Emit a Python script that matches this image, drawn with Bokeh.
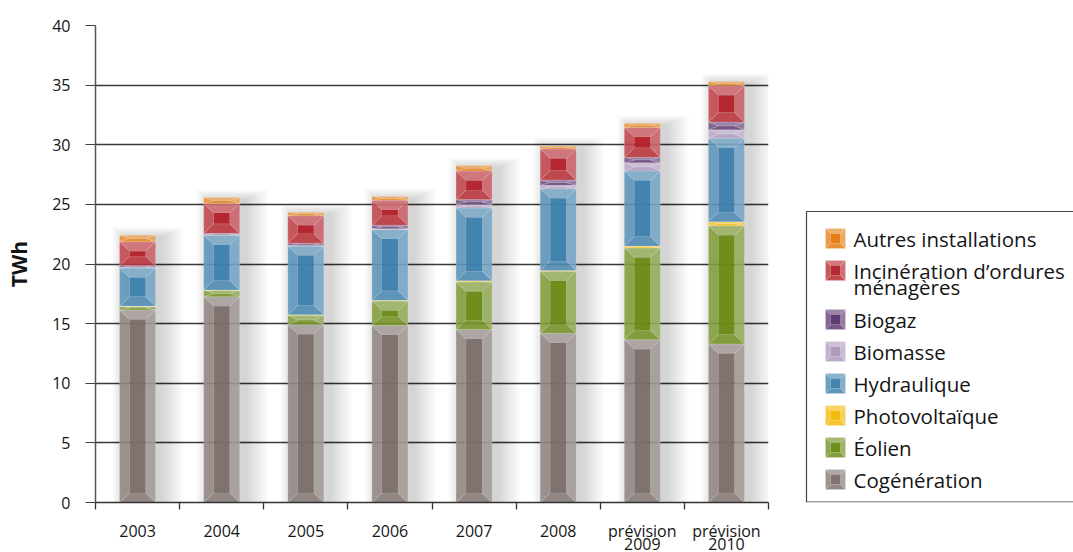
import numpy as np
from bokeh.plotting import figure
from bokeh.layouts import row
from bokeh.models import FixedTicker, ColumnDataSource, Range1d, LinearAxis
from bokeh.core.properties import value
from bokeh.embed import file_html
from bokeh.resources import INLINE

# --- data (TWh) ---------------------------------------------------------
categories = ["2003", "2004", "2005", "2006", "2007", "2008",
              "prévision\n2009", "prévision\n2010"]
cogeneration = [16.15, 17.25, 14.9, 14.85, 14.5, 14.2, 13.65, 13.3]
eolien = [0.3, 0.55, 0.8, 2.05, 4.0, 5.2, 7.7, 9.9]
photovoltaique = [0.02, 0.02, 0.05, 0.05, 0.1, 0.05, 0.15, 0.35]
hydraulique = [3.2, 4.6, 5.75, 5.95, 6.1, 6.85, 6.3, 7.0]
biomasse = [0.05, 0.05, 0.05, 0.05, 0.3, 0.3, 0.7, 0.7]
biogaz = [0.15, 0.1, 0.2, 0.3, 0.4, 0.45, 0.45, 0.65]
incineration = [2.0, 2.5, 2.3, 2.1, 2.4, 2.6, 2.5, 3.05]
autres = [0.55, 0.5, 0.3, 0.3, 0.45, 0.25, 0.35, 0.35]

series_names = ["Cogénération", "Éolien", "Photovoltaïque", "Hydraulique",
                "Biomasse", "Biogaz", "Incinération d’ordures\nménagères",
                "Autres installations"]
series_values = [cogeneration, eolien, photovoltaique, hydraulique,
                 biomasse, biogaz, incineration, autres]
series_colors = ["#7d706b", "#6b8b17", "#f4b800", "#3e80ad",
                 "#ad98bd", "#5b3470", "#b5222b", "#e27b0c"]

y_ticks = [0, 5, 10, 15, 20, 25, 30, 35, 40]

FONT = "Open Sans"
TEXT_COLOR = "#151515"


def mix(hex_color, t, target=(255, 255, 255)):
    h = hex_color.lstrip("#")
    rgb = [int(h[i:i + 2], 16) for i in (0, 2, 4)]
    out = [round(c + (tc - c) * t) for c, tc in zip(rgb, target)]
    return "#%02x%02x%02x" % tuple(out)


def bevel_pieces(x0, x1, y0, y1, bx, by_max, color):
    """Polygons (top, bottom, left, right) and inner box of a bevelled rect."""
    by = min(by_max, (y1 - y0) / 2.0)
    bxx = min(bx, (x1 - x0) / 2.0)
    ix0, ix1, iy0, iy1 = x0 + bxx, x1 - bxx, y0 + by, y1 - by
    polys = [
        ([x0, x1, ix1, ix0], [y1, y1, iy1, iy1], mix(color, 0.34)),   # top
        ([x0, x1, ix1, ix0], [y0, y0, iy0, iy0], mix(color, 0.10)),   # bottom
        ([x0, x0, ix0, ix0], [y0, y1, iy1, iy0], mix(color, 0.18)),   # left
        ([x1, x1, ix1, ix1], [y0, y1, iy1, iy0], mix(color, 0.30)),   # right
    ]
    return polys, (ix0, ix1, iy0, iy1)


def draw_bevelled(p, rects, bx, by, rim_alpha=0.9):
    pxs, pys, pcol = [], [], []
    inner = dict(left=[], right=[], bottom=[], top=[], color=[])
    for (x0, x1, y0, y1, color) in rects:
        polys, (ix0, ix1, iy0, iy1) = bevel_pieces(x0, x1, y0, y1, bx, by, color)
        for xs, ys, c in polys:
            pxs.append(xs)
            pys.append(ys)
            pcol.append(c)
        inner["left"].append(ix0)
        inner["right"].append(ix1)
        inner["bottom"].append(iy0)
        inner["top"].append(iy1)
        inner["color"].append(color)
    p.patches(xs=pxs, ys=pys, fill_color=pcol, fill_alpha=rim_alpha,
              line_color="white", line_alpha=0.25, line_width=0.6)
    p.quad(source=ColumnDataSource(inner), left="left", right="right",
           bottom="bottom", top="top", fill_color="color", fill_alpha=0.97,
           line_color=None)


# --- main chart -----------------------------------------------------------
n = len(categories)
centers = np.arange(1, n + 1)
W_MAIN, H = 800, 552
FRAME_L, FRAME_R, FRAME_T, FRAME_B = 95, 768, 25, 502
px_x = n / (FRAME_R - FRAME_L)
px_y = 40.0 / (FRAME_B - FRAME_T)

p = figure(width=W_MAIN, height=H, output_backend="svg", toolbar_location=None,
           x_range=Range1d(0.5, n + 0.5), y_range=Range1d(0, 40),
           min_border_left=FRAME_L, min_border_right=W_MAIN - FRAME_R,
           min_border_top=FRAME_T, min_border_bottom=H - FRAME_B)
p.outline_line_color = None
p.background_fill_color = "white"
p.border_fill_color = "white"

stack = np.array(series_values, dtype=float)
tops = np.cumsum(stack, axis=0)
bottoms = tops - stack
totals = tops[-1]
half_w = 18 * px_x

# soft drop shadow behind each stacked bar, thrown to the right
for k in range(1, 15):
    e = k * 1.6
    p.quad(left=centers - half_w - e * 0.6 * px_x + 6 * px_x,
           right=centers + half_w + e * px_x + 6 * px_x,
           bottom=np.zeros(n), top=totals + (e * 0.45 - 2) * px_y,
           fill_color="black", fill_alpha=0.012, line_color=None)

rects = []
for s, color in enumerate(series_colors):
    for i in range(n):
        if stack[s, i] <= 0:
            continue
        rects.append((centers[i] - half_w, centers[i] + half_w,
                      bottoms[s, i], tops[s, i], color))
draw_bevelled(p, rects, 10 * px_x, 9.5 * px_y, rim_alpha=0.9)

# y axis
p.yaxis.ticker = FixedTicker(ticks=y_ticks)
p.yaxis.axis_label = "TWh"
p.yaxis.axis_label_text_font = FONT
p.yaxis.axis_label_text_font_style = "bold"
p.yaxis.axis_label_text_font_size = "21px"
p.yaxis.axis_label_text_color = TEXT_COLOR
p.yaxis.axis_label_standoff = 16
p.yaxis.major_label_text_font = FONT
p.yaxis.major_label_text_font_size = "16px"
p.yaxis.major_label_text_color = TEXT_COLOR
p.yaxis.major_label_standoff = 15
p.yaxis.major_tick_out = 10
p.yaxis.major_tick_in = 0
p.yaxis.minor_tick_line_color = None
p.yaxis.major_tick_line_color = "#404040"
p.yaxis.axis_line_color = "#555555"
p.yaxis.axis_line_width = 1.5

# x axis: labels at bar centres, ticks at category boundaries
first_lines = [c.split("\n")[0] for c in categories]
second_lines = [c.split("\n")[1] if "\n" in c else "" for c in categories]
p.xaxis.ticker = FixedTicker(ticks=list(centers),
                             minor_ticks=list(np.arange(0.5, n + 1, 1.0)))
p.xaxis.major_label_overrides = {int(c): lab for c, lab in zip(centers, first_lines)}
p.xaxis.major_tick_out = 0
p.xaxis.major_tick_in = 0
p.xaxis.minor_tick_out = 7
p.xaxis.minor_tick_in = 0
p.xaxis.minor_tick_line_color = "#333333"
p.xaxis.minor_tick_line_width = 1.3
p.xaxis.major_label_standoff = 10
p.xaxis.major_label_text_font = FONT
p.xaxis.major_label_text_font_size = "16px"
p.xaxis.major_label_text_color = TEXT_COLOR
p.xaxis.axis_line_color = "#333333"
p.xaxis.axis_line_width = 1.5

# second line of the two-line category labels, on a bare axis underneath
second_ticks = [int(c) for c, t in zip(centers, second_lines) if t]
ax2 = LinearAxis(ticker=FixedTicker(ticks=second_ticks),
                 major_label_overrides={int(c): t for c, t in zip(centers, second_lines) if t},
                 axis_line_color=None, major_tick_line_color=None,
                 minor_tick_line_color=None, major_tick_out=0, major_tick_in=0,
                 minor_tick_out=0, minor_tick_in=0, major_label_standoff=-7,
                 major_label_text_font=FONT, major_label_text_font_size="16px",
                 major_label_text_color=TEXT_COLOR)
p.add_layout(ax2, "below")

p.xgrid.grid_line_color = None
p.ygrid.grid_line_color = "#3a3a3a"
p.ygrid.grid_line_width = 1.3

# --- legend panel -----------------------------------------------------------
# its frame lines up with the chart frame, so map page pixels accordingly
W_LEG = 1073 - W_MAIN
leg = figure(width=W_LEG, height=H, output_backend="svg", toolbar_location=None,
             x_range=Range1d(0, W_LEG), y_range=Range1d(H - FRAME_B, H - FRAME_T),
             x_axis_type=None, y_axis_type=None,
             min_border=0, min_border_left=0, min_border_right=0,
             min_border_top=FRAME_T, min_border_bottom=H - FRAME_B)
leg.outline_line_color = None
leg.xgrid.grid_line_color = None
leg.ygrid.grid_line_color = None
leg.background_fill_color = "white"
leg.border_fill_color = "white"

box_left, box_top, box_bottom = 806 - W_MAIN, 211, 501.5
leg.quad(left=[box_left], right=[W_LEG + 20], top=[H - box_top],
         bottom=[H - box_bottom], fill_color="white", line_color="#444444",
         line_width=1.2)

legend_order = list(range(len(series_names)))[::-1]
icon_x0 = 825 - W_MAIN
text_x = 853 - W_MAIN
row_y = []
y = 238
for s in legend_order:
    row_y.append(y)
    y += 32 + (17 if "\n" in series_names[s] else 0)

icon_rects = []
tx, ty, tt = [], [], []
for s, yc in zip(legend_order, row_y):
    icon_rects.append((icon_x0, icon_x0 + 20, H - yc - 10, H - yc + 10,
                       series_colors[s]))
    for j, line in enumerate(series_names[s].split("\n")):
        tx.append(text_x)
        ty.append(H - (yc + 16 * j))
        tt.append(line)
draw_bevelled(leg, icon_rects, 5, 5, rim_alpha=0.92)
leg.text(x=tx, y=ty, text=tt, text_font=value(FONT), text_font_size="20.5px",
         text_baseline="middle", text_align="left", text_color=TEXT_COLOR,
         text_line_height=1.0)

layout = row(p, leg, spacing=0)
open("out.html", "w").write(file_html(layout, INLINE))
